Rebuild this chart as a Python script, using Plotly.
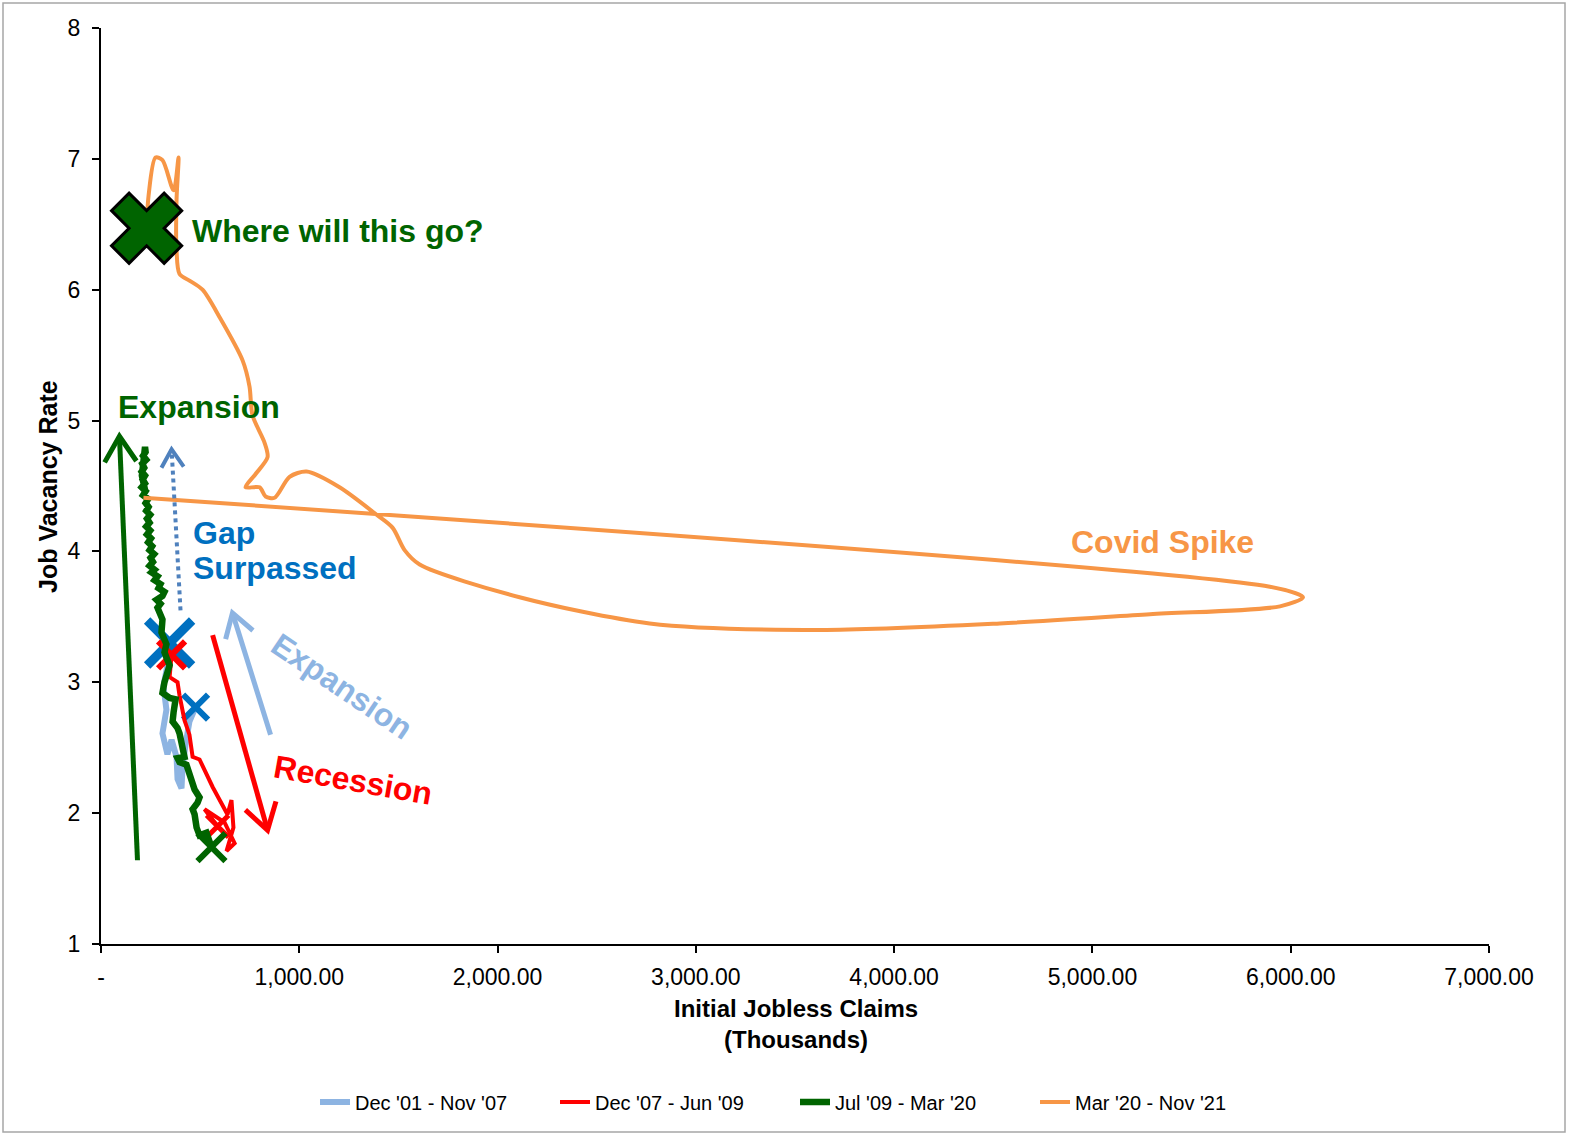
import math
import plotly.graph_objects as go

# ---------------- data (claims in thousands, job vacancy rate in %) ----------------
blue_claims = [477, 446, 426, 411, 406, 386, 381, 356, 335, 310, 330, 315, 335, 310, 346]
blue_rate = [2.81, 2.70, 2.52, 2.35, 2.19, 2.26, 2.43, 2.56, 2.45, 2.61, 2.79, 2.97, 3.13, 3.32, 3.30]

red_claims = [356, 346, 386, 396, 421, 446, 462, 497, 563, 638, 658, 668, 633, 674, 623, 522, 588]
red_rate = [3.21, 3.04, 3.00, 2.90, 2.71, 2.60, 2.43, 2.41, 2.20, 1.99, 2.10, 1.89, 1.71, 1.77, 1.93, 2.03, 1.90]

green_claims = [557, 532, 497, 482, 472, 462, 487, 497, 472, 457, 436, 431, 396, 386, 421, 411, 396, 386,
                361, 366, 376, 346, 310, 320, 346, 335, 320, 330, 305, 310, 285,
                300, 280, 310, 320, 290, 300, 270, 285, 255, 270, 245, 262, 250, 268, 245, 258, 238, 252,
                232, 248, 228, 245, 232, 248, 228, 240, 225, 238, 212, 225, 205, 222, 210, 222, 205, 218,
                208, 228, 212, 225, 222, 215, 212, 206, 220, 225]
green_rate = [1.74, 1.85, 1.83, 1.89, 1.99, 2.03, 2.08, 2.12, 2.18, 2.25, 2.32, 2.37, 2.39, 2.42, 2.43, 2.52,
              2.61, 2.65, 2.70, 2.77, 2.87, 2.88, 2.92, 3.00, 3.13, 3.17, 3.23, 3.29, 3.38, 3.48, 3.57,
              3.60, 3.63, 3.66, 3.69, 3.72, 3.75, 3.78, 3.81, 3.84, 3.86, 3.89, 3.92, 3.95, 3.98, 4.01,
              4.04, 4.07, 4.10, 4.13, 4.16, 4.19, 4.22, 4.25, 4.28, 4.31, 4.34, 4.37, 4.40, 4.43, 4.46,
              4.49, 4.52, 4.55, 4.58, 4.61, 4.64, 4.67, 4.70, 4.73, 4.76, 4.80, 4.74, 4.66, 4.58, 4.50,
              4.45]

orange_claims = [214, 5895, 6062, 5946, 5290, 4533, 3625, 2767, 2111, 1607, 1531, 1471, 1390, 1203, 1037,
                 951, 875, 830, 800, 729, 779, 840, 825, 764, 749, 714, 598, 512, 446, 396, 381, 381, 391,
                 366, 310, 275, 240, 230]
orange_rate = [4.41, 3.73, 3.65, 3.58, 3.52, 3.45, 3.40, 3.45, 3.65, 3.90, 4.01, 4.18, 4.28, 4.49, 4.61,
               4.57, 4.41, 4.42, 4.49, 4.49, 4.59, 4.72, 4.83, 5.04, 5.26, 5.46, 5.79, 6.00, 6.07, 6.12,
               6.30, 6.69, 7.01, 6.76, 6.99, 7.01, 6.72, 6.47]

series_names = ["Dec '01 - Nov '07", "Dec '07 - Jun '09", "Jul '09 - Mar '20", "Mar '20 - Nov '21"]

x_tickvals = [0, 1000, 2000, 3000, 4000, 5000, 6000, 7000]
x_ticktext = ["-", "1,000.00", "2,000.00", "3,000.00", "4,000.00", "5,000.00", "6,000.00", "7,000.00"]
y_tickvals = [1, 2, 3, 4, 5, 6, 7, 8]

# annotation arrows: tail (x0, y0) -> head (x1, y1)
arrow_x0 = [184, 401, 855, 563]
arrow_y0 = [1.64, 3.55, 2.60, 3.36]
arrow_x1 = [93, 356, 663, 840]
arrow_y1 = [4.88, 4.78, 3.53, 1.87]

# ---------------- styles ----------------
C_LBLUE = "#8DB4E2"
C_RED = "#FF0000"
C_GREEN = "#006400"
C_ORANGE = "#F79646"
C_BLUE = "#0070C0"
C_STEEL = "#4F81BD"
FONT = "Liberation Sans, Arial, sans-serif"

L, R, T, B = 101, 80, 28, 192
W, H = 1569, 1136
PW, PH = W - L - R, H - T - B
XR = [0, 7000]
YR = [1, 8]

fig = go.Figure()

def line_trace(x, y, name, color, width, shape="linear"):
    fig.add_trace(go.Scatter(x=x, y=y, mode="lines", name=name,
                             line=dict(color=color, width=width, shape=shape, smoothing=0.8),
                             hoverinfo="skip"))

def x_marker(x, y, color, size, lw):
    fig.add_trace(go.Scatter(x=[x], y=[y], mode="markers", showlegend=False, hoverinfo="skip",
                             marker=dict(symbol="x-thin", size=size,
                                         line=dict(color=color, width=lw))))

line_trace(blue_claims, blue_rate, series_names[0], C_LBLUE, 6)
x_marker(blue_claims[-1], blue_rate[-1], C_BLUE, 45, 9)
x_marker(blue_claims[0], blue_rate[0], C_BLUE, 25, 6)

line_trace(red_claims, red_rate, series_names[1], C_RED, 4)
x_marker(red_claims[0], red_rate[0], C_RED, 27, 6)
x_marker(red_claims[-1], red_rate[-1], C_RED, 22, 5)

line_trace(green_claims, green_rate, series_names[2], C_GREEN, 6.5)
x_marker(green_claims[0], green_rate[0], C_GREEN, 28, 6)

line_trace(orange_claims, orange_rate, series_names[3], C_ORANGE, 4, shape="spline")
fig.add_trace(go.Scatter(x=[orange_claims[-1]], y=[orange_rate[-1]], mode="markers", showlegend=False,
                         hoverinfo="skip",
                         marker=dict(symbol="x", size=62, color=C_GREEN,
                                     line=dict(color="black", width=3))))

# ---------------- arrows ----------------
arrow_colors = [C_GREEN, C_STEEL, C_LBLUE, C_RED]
arrow_widths = [5, 4, 5, 5]
arrow_dash = ["solid", "dot", "solid", "solid"]
arrow_head = [30, 21, 27, 30]
sx = PW / (XR[1] - XR[0])
sy = PH / (YR[1] - YR[0])
shapes = []
for i in range(4):
    x0, y0, x1, y1 = arrow_x0[i], arrow_y0[i], arrow_x1[i], arrow_y1[i]
    shapes.append(dict(type="line", xref="x", yref="y", x0=x0, y0=y0, x1=x1, y1=y1,
                       line=dict(color=arrow_colors[i], width=arrow_widths[i], dash=arrow_dash[i])))
    dx, dy = (x1 - x0) * sx, (y1 - y0) * sy
    ln = math.hypot(dx, dy)
    bx, by = -dx / ln, -dy / ln
    a = math.radians(32)
    hl = arrow_head[i]
    p1 = (hl * (bx * math.cos(a) - by * math.sin(a)), hl * (bx * math.sin(a) + by * math.cos(a)))
    p2 = (hl * (bx * math.cos(-a) - by * math.sin(-a)), hl * (bx * math.sin(-a) + by * math.cos(-a)))
    path = f"M{p1[0]:.2f},{p1[1]:.2f} L0,0 L{p2[0]:.2f},{p2[1]:.2f}"
    shapes.append(dict(type="path", xref="x", yref="y", xsizemode="pixel", ysizemode="pixel",
                       xanchor=x1, yanchor=y1, path=path,
                       line=dict(color=arrow_colors[i], width=arrow_widths[i])))

# outer border
shapes.append(dict(type="rect", xref="paper", yref="paper",
                   x0=(3 - L) / PW, x1=(1565 - L) / PW, y0=(H - B - 1132) / PH, y1=(H - B - 3) / PH,
                   line=dict(color="#A6A6A6", width=1.5), layer="below"))

# ---------------- text ----------------
def txt(x, y, s, color, size=32, angle=0, xanchor="left"):
    return dict(x=x, y=y, xref="x", yref="y", text=f"<b>{s}</b>", showarrow=False,
                font=dict(family=FONT, size=size, color=color), textangle=angle,
                xanchor=xanchor, yanchor="middle")

annotations = [
    txt(450, 6.45, "Where will this go?", C_GREEN),
    txt(75, 5.10, "Expansion", C_GREEN),
    txt(455, 4.14, "Gap", C_BLUE),
    txt(455, 3.87, "Surpassed", C_BLUE),
    txt(1213, 2.97, "Expansion", C_LBLUE, angle=34, xanchor="center"),
    txt(1269, 2.25, "Recession", C_RED, angle=10, xanchor="center"),
    txt(4880, 4.07, "Covid Spike", C_ORANGE),
    dict(x=(48 - L) / PW, y=(H - B - 487) / PH, xref="paper", yref="paper", showarrow=False,
         text="<b>Job Vacancy Rate</b>", textangle=-90, font=dict(family=FONT, size=25, color="black"),
         xanchor="center", yanchor="middle"),
    dict(x=(796 - L) / PW, y=(H - B - 1024) / PH, xref="paper", yref="paper", showarrow=False,
         text="<b>Initial Jobless Claims<br>(Thousands)</b>", font=dict(family=FONT, size=24, color="black"),
         xanchor="center", yanchor="middle"),
]

axis_common = dict(showline=True, linecolor="black", linewidth=2, ticks="outside", ticklen=7,
                   tickwidth=2, tickcolor="black", showgrid=False, zeroline=False,
                   tickfont=dict(family=FONT, size=23, color="black"))

fig.update_layout(
    width=W, height=H,
    margin=dict(l=L, r=R, t=T, b=B),
    plot_bgcolor="white", paper_bgcolor="white",
    xaxis=dict(range=XR, tickvals=x_tickvals, ticktext=x_ticktext, ticklabelstandoff=4, **axis_common),
    yaxis=dict(range=YR, tickvals=y_tickvals, ticklabelstandoff=7, **axis_common),
    shapes=shapes,
    annotations=annotations,
    legend=dict(orientation="h", x=0.5, xanchor="center", y=(H - B - 1102) / PH, yanchor="middle",
                font=dict(family=FONT, size=20, color="black"),
                entrywidth=195, bgcolor="rgba(0,0,0,0)"),
)

fig.write_html("out.html", config={"displayModeBar": False},
               post_script="document.body.style.margin='0';document.body.style.overflow='hidden';")
